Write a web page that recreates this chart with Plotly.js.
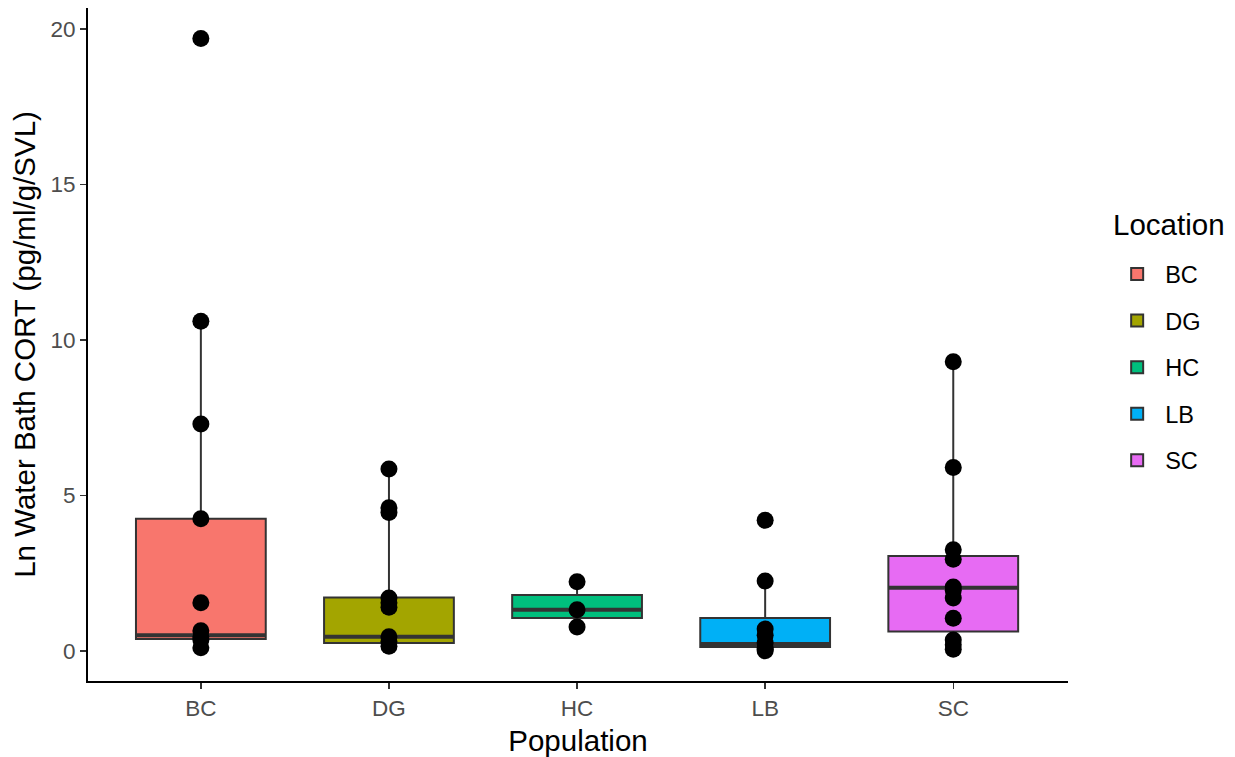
<!DOCTYPE html>
<html>
<head>
<meta charset="utf-8">
<script src="https://cdn.plot.ly/plotly-3.0.1.min.js"></script>
<style>html,body{margin:0;padding:0;background:#fff;}#chart{width:1235px;height:757px;}</style>
</head>
<body>
<div id="chart"></div>
<script>
const populations = ["BC", "DG", "HC", "LB", "SC"];
const boxColors = ["#F8766D", "#A3A500", "#00BF7D", "#00B0F6", "#E76BF3"];

// observed values per population
const valuesBC = [19.7, 10.6, 7.3, 4.25, 1.55, 0.65, 0.45, 0.35, 0.1];
const valuesDG = [5.85, 4.6, 4.45, 1.7, 1.55, 1.4, 0.45, 0.3, 0.15];
const valuesHC = [2.22, 1.32, 0.77];
const valuesLB = [4.2, 2.25, 0.7, 0.5, 0.25, 0.1, 0.05, 0.0];
const valuesSC = [9.3, 5.9, 3.25, 2.95, 2.05, 1.95, 1.7, 1.05, 0.35, 0.2, 0.05];

// box summary statistics (ggplot style)
const lowerFence = [0.1, 0.15, 0.77, 0.0, 0.05];
const q1 = [0.38, 0.25, 1.06, 0.12, 0.62];
const median = [0.5, 0.45, 1.32, 0.22, 2.03];
const q3 = [4.25, 1.72, 1.8, 1.06, 3.05];
const upperFence = [10.6, 5.85, 2.22, 2.25, 9.3];

const allValues = [valuesBC, valuesDG, valuesHC, valuesLB, valuesSC];
const boxWidth = 0.69;
const xRange = [-0.6, 4.61];

const traces = [];
populations.forEach((p, i) => {
  traces.push({
    type: "box",
    name: p,
    x: [p],
    q1: [q1[i]], median: [median[i]], q3: [q3[i]],
    lowerfence: [lowerFence[i]], upperfence: [upperFence[i]],
    fillcolor: boxColors[i],
    line: {color: "#333333", width: 2},
    whiskerwidth: 0,
    boxpoints: false,
    width: boxWidth,
    legendgroup: p,
    hoverinfo: "skip"
  });
});
// thick median bars (ggplot style), on an overlaid numeric axis
populations.forEach((p, i) => {
  traces.push({
    type: "scatter", mode: "lines",
    x: [i - boxWidth / 2, i + boxWidth / 2],
    y: [median[i], median[i]],
    xaxis: "x2",
    line: {color: "#333333", width: 4},
    showlegend: false, hoverinfo: "skip"
  });
});
populations.forEach((p, i) => {
  traces.push({
    type: "scatter",
    mode: "markers",
    x: allValues[i].map(() => i),
    y: allValues[i],
    xaxis: "x2",
    marker: {color: "#000000", size: 17},
    showlegend: false,
    hoverinfo: "y"
  });
});

const layout = {
  width: 1235, height: 757,
  margin: {l: 88, r: 167, t: 8, b: 76},
  paper_bgcolor: "#ffffff", plot_bgcolor: "#ffffff",
  font: {family: "Liberation Sans, Arial, sans-serif", color: "#000"},
  showlegend: true,
  boxmode: "overlay",
  xaxis: {
    type: "category",
    categoryorder: "array", categoryarray: populations,
    range: xRange,
    showline: true, linecolor: "#000", linewidth: 2,
    ticks: "outside", ticklen: 6, tickcolor: "#333", tickwidth: 1.5,
    tickfont: {size: 22.5, color: "#4d4d4d"},
    showgrid: false, zeroline: false,
    title: {text: "Population", font: {size: 29.5, color: "#000"}, standoff: 12}
  },
  xaxis2: {
    overlaying: "x", range: xRange, visible: false, showgrid: false, zeroline: false
  },
  yaxis: {
    range: [-0.97, 20.68],
    tickvals: [0, 5, 10, 15, 20],
    showline: true, linecolor: "#000", linewidth: 2,
    ticks: "outside", ticklen: 6, tickcolor: "#333", tickwidth: 1.5,
    tickfont: {size: 22.5, color: "#4d4d4d"},
    showgrid: false, zeroline: false,
    title: {text: "Ln Water Bath CORT (pg/ml/g/SVL)", font: {size: 29.5, color: "#000"}, standoff: 6}
  },
  legend: {
    x: 1.042, xanchor: "left", y: 0.637, yanchor: "top",
    font: {size: 23.5, color: "#000"},
    tracegroupgap: 13,
    itemwidth: 46
  },
  annotations: [{
    text: "Location", xref: "paper", yref: "paper",
    x: 1.044, xanchor: "left", y: 0.679, yanchor: "middle",
    showarrow: false, font: {size: 29.5, color: "#000"}
  }]
};

Plotly.newPlot("chart", traces, layout, {displayModeBar: false, staticPlot: true});
</script>
</body>
</html>
